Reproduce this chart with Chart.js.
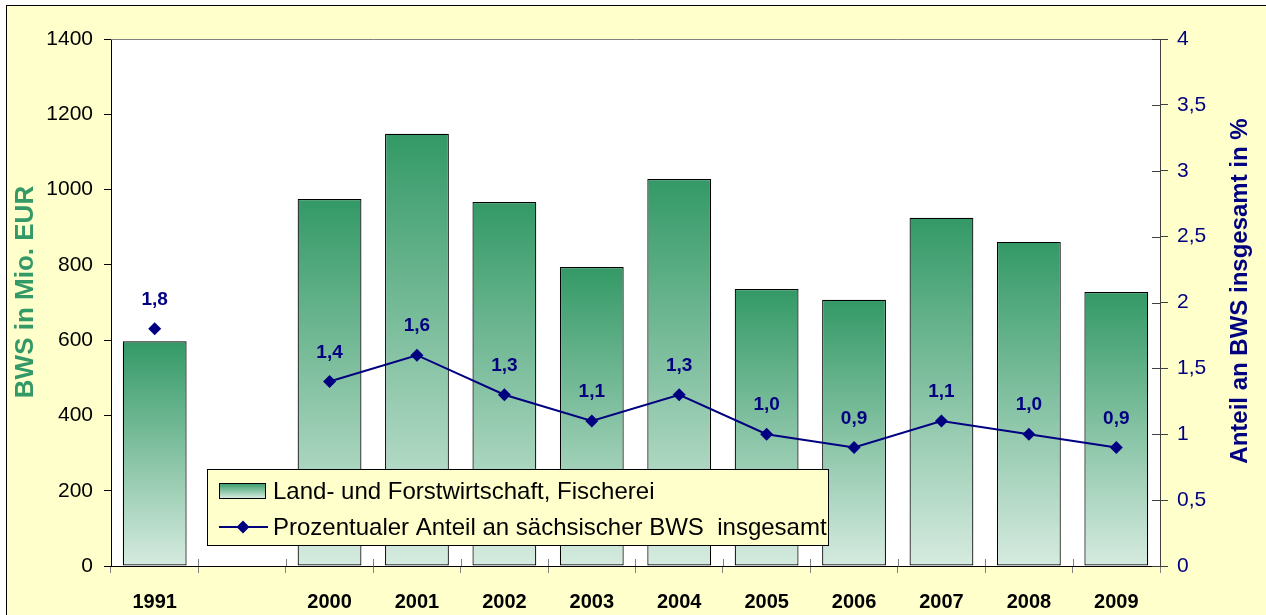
<!DOCTYPE html>
<html>
<head>
<meta charset="utf-8">
<script src="https://cdn.jsdelivr.net/npm/chart.js@4/dist/chart.umd.min.js"></script>
<style>
  html, body { margin: 0; padding: 0; background: #fff; }
</style>
</head>
<body>
<canvas id="myChart" width="1266" height="615"></canvas>
<script>
const years = ["1991", "", "2000", "2001", "2002", "2003", "2004", "2005", "2006", "2007", "2008", "2009"];
const bwsValues = [597, null, 975, 1148, 967, 794, 1028, 736, 707, 925, 861, 728];
const shareValues = [1.8, null, 1.4, 1.6, 1.3, 1.1, 1.3, 1.0, 0.9, 1.1, 1.0, 0.9];
const barLabel = "Land- und Forstwirtschaft, Fischerei";
const lineLabel = "Prozentualer Anteil an sächsischer BWS  insgesamt";

const FONT = "'Liberation Sans', Arial, sans-serif";
const GREEN_TOP = "#339966";
const GREEN_BOTTOM = "#d6ebe0";
const NAVY = "#000080";

Chart.defaults.font.family = FONT;

function comma(v, digits) {
  return (digits == null ? String(v) : v.toFixed(digits)).replace(".", ",");
}

// background, frame, titles, labels, legend
const decor = {
  id: "decor",
  beforeDraw(chart) {
    const { ctx, chartArea: a, width, height } = chart;
    ctx.save();
    ctx.fillStyle = "#fff";
    ctx.fillRect(0, 0, width, height);
    ctx.fillStyle = "#ffffcc";
    ctx.fillRect(6, 5, width, height);
    ctx.strokeStyle = "#000";
    ctx.lineWidth = 1;
    ctx.strokeRect(6.5, 5.5, width + 10, height + 10);
    ctx.fillStyle = "#fff";
    ctx.fillRect(a.left, a.top, a.right - a.left, a.bottom - a.top);
    ctx.restore();
  },
  afterDraw(chart) {
    const { ctx, chartArea: a, scales } = chart;
    ctx.save();

    // top border of plot
    ctx.strokeStyle = "#808080";
    ctx.lineWidth = 1;
    ctx.beginPath();
    ctx.moveTo(a.left, a.top + 0.5);
    ctx.lineTo(a.right, a.top + 0.5);
    ctx.stroke();

    // inner halves of crossing ticks
    ctx.strokeStyle = "#404040";
    ctx.beginPath();
    scales.y1.ticks.forEach((t, i) => {
      const y = Math.round(scales.y1.getPixelForTick(i)) + 0.5;
      ctx.moveTo(a.right - 8, y);
      ctx.lineTo(a.right, y);
    });
    ctx.stroke();
    ctx.strokeStyle = "#808080";
    ctx.beginPath();
    const half = (scales.x.getPixelForValue(1) - scales.x.getPixelForValue(0)) / 2;
    for (let i = 1; i < years.length; i++) {
      const x = Math.round(scales.x.getPixelForValue(i) - half) + 0.5;
      ctx.moveTo(x, a.bottom - 7);
      ctx.lineTo(x, a.bottom);
    }
    ctx.stroke();

    // data labels
    const meta = chart.getDatasetMeta(1);
    ctx.fillStyle = NAVY;
    ctx.font = "bold 19px " + FONT;
    ctx.textAlign = "center";
    ctx.textBaseline = "middle";
    meta.data.forEach((p, i) => {
      if (shareValues[i] == null) return;
      ctx.fillText(comma(shareValues[i], 1), p.x, p.y - 29);
    });

    // axis titles
    ctx.save();
    ctx.translate(26, 292);
    ctx.rotate(-Math.PI / 2);
    ctx.fillStyle = GREEN_TOP;
    ctx.font = "bold 26px " + FONT;
    ctx.fillText("BWS in Mio. EUR", 0, 0);
    ctx.restore();
    ctx.save();
    ctx.translate(1240, 291);
    ctx.rotate(-Math.PI / 2);
    ctx.fillStyle = NAVY;
    ctx.font = "bold 24px " + FONT;
    ctx.fillText("Anteil an BWS insgesamt in %", 0, 0);
    ctx.restore();

    // legend
    const lx = 207, ly = 469, lw = 621, lh = 76;
    ctx.fillStyle = "#ffffcc";
    ctx.fillRect(lx, ly, lw, lh);
    ctx.strokeStyle = "#000";
    ctx.strokeRect(lx + 0.5, ly + 0.5, lw, lh);
    const g = ctx.createLinearGradient(0, 483, 0, 498);
    g.addColorStop(0, GREEN_TOP);
    g.addColorStop(1, GREEN_BOTTOM);
    ctx.fillStyle = g;
    ctx.fillRect(219, 483, 46, 15);
    ctx.strokeRect(219.5, 483.5, 46, 15);
    ctx.strokeStyle = NAVY;
    ctx.lineWidth = 2;
    ctx.beginPath();
    ctx.moveTo(219, 527);
    ctx.lineTo(268, 527);
    ctx.stroke();
    ctx.fillStyle = NAVY;
    ctx.beginPath();
    ctx.moveTo(243, 520.5);
    ctx.lineTo(249.5, 527);
    ctx.lineTo(243, 533.5);
    ctx.lineTo(236.5, 527);
    ctx.closePath();
    ctx.fill();
    ctx.fillStyle = "#000";
    ctx.font = "24px " + FONT;
    ctx.textAlign = "left";
    ctx.fillText(barLabel, 273, 492);
    ctx.fillText(lineLabel, 273, 528);

    ctx.restore();
  }
};

let myChart = document.getElementById("myChart").getContext("2d");

let comboChart = new Chart(myChart, {
  type: "bar",
  data: {
    labels: years,
    datasets: [
      {
        type: "bar",
        label: barLabel,
        data: bwsValues,
        yAxisID: "y",
        order: 1,
        barPercentage: 0.73,
        categoryPercentage: 1,
        borderColor: "#000",
        borderWidth: 1.2,
        borderSkipped: false,
        backgroundColor: (c) => {
          const chart = c.chart;
          if (!chart.chartArea || c.raw == null) return GREEN_TOP;
          const top = chart.scales.y.getPixelForValue(c.raw);
          const bottom = chart.scales.y.getPixelForValue(0);
          const g = chart.ctx.createLinearGradient(0, top, 0, bottom);
          g.addColorStop(0, GREEN_TOP);
          g.addColorStop(1, GREEN_BOTTOM);
          return g;
        },
      },
      {
        type: "line",
        label: lineLabel,
        data: shareValues,
        yAxisID: "y1",
        order: 0,
        borderColor: NAVY,
        borderWidth: 2,
        pointStyle: "rectRot",
        pointRadius: 6.5,
        pointBackgroundColor: NAVY,
        pointBorderColor: NAVY,
        pointBorderWidth: 0,
        spanGaps: false,
        tension: 0,
      },
    ],
  },
  options: {
    responsive: false,
    animation: false,
    devicePixelRatio: 1,
    layout: { padding: { top: 39, left: 0, right: 0, bottom: 0 } },
    plugins: {
      legend: { display: false },
      tooltip: { enabled: false },
    },
    scales: {
      x: {
        offset: true,
        grid: { offset: true, drawOnChartArea: false, tickLength: 7, color: "#808080" },
        border: { color: "#000" },
        ticks: { color: "#000", font: { size: 20, weight: "bold" }, padding: 17, maxRotation: 0, autoSkip: false },
        afterFit: (s) => { s.height = 49; s.paddingLeft = 0; s.paddingRight = 0; },
      },
      y: {
        position: "left",
        min: 0,
        max: 1400,
        grid: { drawOnChartArea: false, tickLength: 7, color: "#000" },
        border: { color: "#000" },
        ticks: { stepSize: 200, color: "#000", font: { size: 21 }, padding: 11, callback: (v) => String(v) },
        afterFit: (s) => { s.width = 111; s.paddingTop = 0; s.paddingBottom = 0; },
      },
      y1: {
        position: "right",
        min: 0,
        max: 4,
        grid: { drawOnChartArea: false, tickLength: 8, color: "#404040" },
        border: { color: "#404040" },
        ticks: { stepSize: 0.5, color: NAVY, font: { size: 21 }, padding: 9, callback: (v) => comma(v) },
        afterFit: (s) => { s.width = 106; s.paddingTop = 0; s.paddingBottom = 0; },
      },
    },
  },
  plugins: [decor],
});
</script>
</body>
</html>
